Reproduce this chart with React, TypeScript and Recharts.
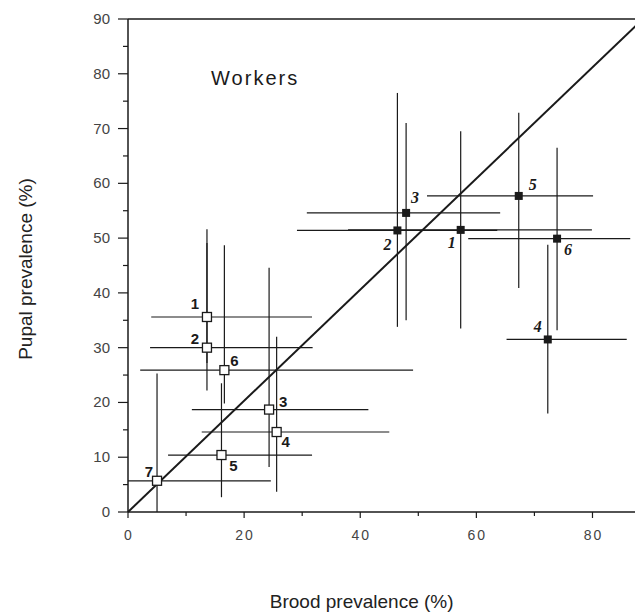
import React from 'react';
import { ScatterChart, Scatter, XAxis, YAxis, ErrorBar, ReferenceLine, ReferenceDot } from 'recharts';

const SANS = '"Liberation Sans", Arial, Helvetica, sans-serif';
const SERIF = '"Liberation Serif", "Times New Roman", serif';
const INK = '#1a1a1a';

// open squares (numbered 1-7)
const openLabels = ['1', '2', '3', '4', '5', '6', '7'];
const openBrood = [13.6, 13.6, 24.3, 25.6, 16.1, 16.6, 5.0];
const openPupal = [35.6, 30.0, 18.7, 14.6, 10.4, 25.9, 5.7];
const openBroodLow = [4.0, 3.8, 11.0, 12.7, 6.9, 2.1, 0];
const openBroodHigh = [31.7, 31.8, 41.4, 45.0, 31.7, 49.1, 24.6];
const openPupalLow = [27.2, 22.2, 8.2, 3.7, 2.7, 19.8, 0];
const openPupalHigh = [51.6, 49.1, 44.6, 32.0, 23.5, 48.7, 25.3];

// filled squares (numbered 1-6)
const filledLabels = ['1', '2', '3', '4', '5', '6'];
const filledBrood = [57.3, 46.4, 47.9, 72.3, 67.3, 73.9];
const filledPupal = [51.5, 51.4, 54.6, 31.5, 57.7, 49.9];
const filledBroodLow = [37.9, 29.1, 30.8, 65.2, 51.5, 58.6];
const filledBroodHigh = [79.9, 63.6, 64.1, 85.9, 80.1, 86.5];
const filledPupalLow = [33.5, 33.8, 35.0, 18.0, 40.9, 33.2];
const filledPupalHigh = [69.5, 76.5, 71.0, 48.8, 72.9, 66.5];

// label placement around each square, in pixels
const openLabelOffset = [[-12, -13], [-12, -9], [14, -8], [9, 10], [12, 11], [10, -9], [-8, -9]];
const filledLabelOffset = [[-9, 13], [-10, 15], [9, -15], [-10, -12], [14, -11], [11, 11]];

const xTicks = [0, 10, 20, 30, 40, 50, 60, 70, 80];
const yTicks = [0, 5, 10, 15, 20, 25, 30, 35, 40, 45, 50, 55, 60, 65, 70, 75, 80, 85, 90];

const xMax = 88.7;
const yMax = 90;

const build = (labels: string[], bx: number[], py: number[], bl: number[], bh: number[], pl: number[], ph: number[], off: number[][]) =>
  labels.map((label, i) => ({
    label,
    x: bx[i],
    y: py[i],
    ex: [bx[i] - bl[i], bh[i] - bx[i]],
    ey: [py[i] - pl[i], ph[i] - py[i]],
    dx: off[i][0],
    dy: off[i][1],
  }));

const openData = build(openLabels, openBrood, openPupal, openBroodLow, openBroodHigh, openPupalLow, openPupalHigh, openLabelOffset);
const filledData = build(filledLabels, filledBrood, filledPupal, filledBroodLow, filledBroodHigh, filledPupalLow, filledPupalHigh, filledLabelOffset);

const OpenSquare = (props: any) => {
  const { cx, cy, payload } = props;
  return (
    <g>
      <rect x={cx - 4.5} y={cy - 4.5} width={9} height={9} fill="#fff" stroke={INK} strokeWidth={1.3} />
      <text x={cx + payload.dx} y={cy + payload.dy} dy={5} textAnchor="middle" fontSize={15} fontWeight="bold" fontFamily={SANS} fill={INK}>
        {payload.label}
      </text>
    </g>
  );
};

const FilledSquare = (props: any) => {
  const { cx, cy, payload } = props;
  return (
    <g>
      <rect x={cx - 4} y={cy - 4} width={8} height={8} fill={INK} />
      <text x={cx + payload.dx} y={cy + payload.dy} dy={5} textAnchor="middle" fontSize={16} fontWeight="bold" fontStyle="italic" fontFamily={SERIF} fill={INK}>
        {payload.label}
      </text>
    </g>
  );
};

const XTick = (props: any) => {
  const { x, y, payload } = props;
  const major = payload.value % 20 === 0;
  return (
    <g>
      <line x1={x} x2={x} y1={y} y2={y + (major ? 6 : 4)} stroke={INK} strokeWidth={1.2} />
      {major && (
        <text x={x + 1} y={y + 28} textAnchor="middle" fontSize={14} letterSpacing={2} fontFamily={SANS} fill="#444">
          {payload.value}
        </text>
      )}
    </g>
  );
};

const YTick = (props: any) => {
  const { x, y, payload } = props;
  const major = payload.value % 10 === 0;
  return (
    <g>
      <line x1={x - (major ? 10 : 5)} x2={x} y1={y} y2={y} stroke={INK} strokeWidth={1.2} />
      {major && (
        <text x={x - 18} y={y + 5} textAnchor="end" fontSize={15} fontFamily={SANS} fill="#444">
          {payload.value}
        </text>
      )}
    </g>
  );
};

export default function App() {
  return (
    <div style={{ position: 'relative', width: 635, height: 604, background: '#fff' }}>
      <ScatterChart width={635} height={604} margin={{ top: 11, right: 0, bottom: 0, left: 0 }}>
        <XAxis
          type="number"
          dataKey="x"
          domain={[0, xMax]}
          allowDataOverflow
          ticks={xTicks}
          interval={0}
          tick={<XTick />}
          tickLine={false}
          tickSize={0}
          tickMargin={0}
          axisLine={{ stroke: INK, strokeWidth: 1.5 }}
          height={100}
        />
        <YAxis
          type="number"
          dataKey="y"
          domain={[0, yMax]}
          allowDataOverflow
          ticks={yTicks}
          interval={0}
          tick={<YTick />}
          tickLine={false}
          tickSize={0}
          tickMargin={0}
          axisLine={{ stroke: INK, strokeWidth: 1.5 }}
          width={120}
        />
        <ReferenceLine y={yMax} stroke={INK} strokeWidth={1.5} />
        <ReferenceLine segment={[{ x: 0, y: 0 }, { x: xMax, y: yMax }]} stroke={INK} strokeWidth={2} />
        <ReferenceDot
          x={21.9}
          y={79.3}
          r={1}
          fill="none"
          stroke="none"
          label={{ value: 'Workers', position: 'center', fontSize: 20, fill: INK, fontFamily: SANS, letterSpacing: 2 }}
        />
        <Scatter data={filledData} shape={<FilledSquare />} isAnimationActive={false}>
          <ErrorBar dataKey="ex" direction="x" width={0} stroke={INK} strokeWidth={1.2} />
          <ErrorBar dataKey="ey" direction="y" width={0} stroke={INK} strokeWidth={1.2} />
        </Scatter>
        <Scatter data={openData} shape={<OpenSquare />} isAnimationActive={false}>
          <ErrorBar dataKey="ex" direction="x" width={0} stroke={INK} strokeWidth={1.2} />
          <ErrorBar dataKey="ey" direction="y" width={0} stroke={INK} strokeWidth={1.2} />
        </Scatter>
      </ScatterChart>
      <div
        style={{
          position: 'absolute',
          left: 353.7,
          top: 593,
          transform: 'translate(-50%, -50%)',
          fontFamily: SANS,
          fontSize: 19,
          color: '#222',
          whiteSpace: 'nowrap',
          lineHeight: 1,
        }}
      >
        Brood prevalence (%)
      </div>
      <div
        style={{
          position: 'absolute',
          left: 17,
          top: 261,
          transform: 'translate(-50%, -50%) rotate(-90deg)',
          fontFamily: SANS,
          fontSize: 19,
          color: '#222',
          whiteSpace: 'nowrap',
          lineHeight: 1,
        }}
      >
        Pupal prevalence (%)
      </div>
    </div>
  );
}
